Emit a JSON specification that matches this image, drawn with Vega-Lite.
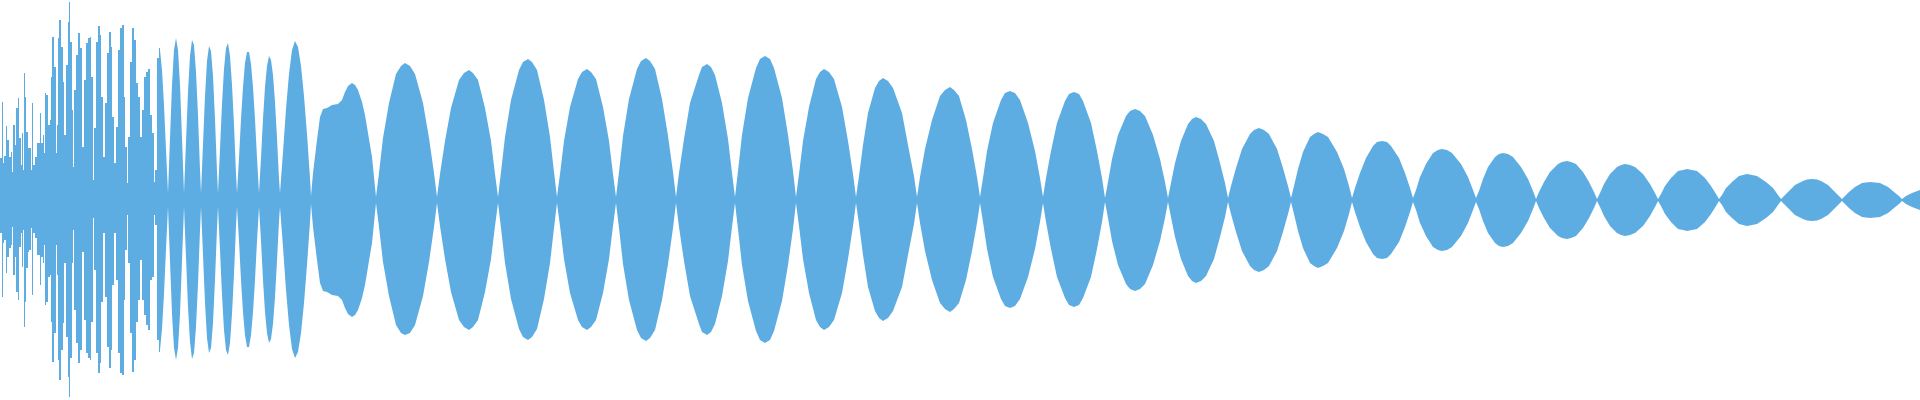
{
  "$schema": "https://vega.github.io/schema/vega-lite/v6.json",
  "width": 1920,
  "height": 400,
  "padding": 0,
  "autosize": {"type": "fit", "contains": "padding"},
  "background": "white",
  "config": {"view": {"stroke": null}},
  "datasets": {
    "jitter": [
      {"x":0,"t":42,"b":-33},{"x":2,"t":98,"b":-97},{"x":3,"t":37,"b":-43},{"x":4,"t":44,"b":-40},
      {"x":6,"t":74,"b":-73},{"x":7,"t":60,"b":-57},{"x":9,"t":43,"b":-48},{"x":11,"t":48,"b":-45},
      {"x":12,"t":28,"b":-27},{"x":13,"t":75,"b":-75},{"x":15,"t":55,"b":-57},{"x":16,"t":92,"b":-92},
      {"x":18,"t":102,"b":-100},{"x":19,"t":62,"b":-47},{"x":21,"t":35,"b":-33},{"x":22,"t":67,"b":-67},
      {"x":23,"t":30,"b":-30},{"x":24,"t":127,"b":-127},{"x":25,"t":103,"b":-102},{"x":26,"t":68,"b":-68},
      {"x":28,"t":52,"b":-52},{"x":29,"t":52,"b":-50},{"x":31,"t":30,"b":-28},{"x":32,"t":97,"b":-95},
      {"x":33,"t":35,"b":-33},{"x":35,"t":43,"b":-38},{"x":37,"t":57,"b":-55},{"x":40,"t":87,"b":-85},
      {"x":41,"t":57,"b":-57},{"x":43,"t":65,"b":-63},{"x":44,"t":47,"b":-45},{"x":45,"t":107,"b":-105},
      {"x":46,"t":105,"b":-102},{"x":48,"t":75,"b":-77},{"x":50,"t":80,"b":-75},{"x":51,"t":123,"b":-122},
      {"x":52,"t":163,"b":-162},{"x":54,"t":133,"b":-133},{"x":56,"t":47,"b":-45},{"x":57,"t":75,"b":-75},
      {"x":58,"t":162,"b":-160},{"x":59,"t":180,"b":-180},{"x":61,"t":153,"b":-150},{"x":63,"t":118,"b":-123},
      {"x":64,"t":65,"b":-63},{"x":66,"t":135,"b":-137},{"x":68,"t":178,"b":-177},{"x":69,"t":198,"b":-197},
      {"x":70,"t":158,"b":-158},{"x":72,"t":90,"b":-63},{"x":73,"t":33,"b":-30},{"x":74,"t":110,"b":-110},
      {"x":76,"t":145,"b":-143},{"x":78,"t":167,"b":-163},{"x":80,"t":152,"b":-150},{"x":82,"t":53,"b":-52},
      {"x":84,"t":120,"b":-120},{"x":86,"t":157,"b":-153},{"x":88,"t":162,"b":-158},{"x":90,"t":163,"b":-160},
      {"x":91,"t":123,"b":-122},{"x":93,"t":20,"b":-18},{"x":94,"t":72,"b":-70},{"x":96,"t":158,"b":-153},
      {"x":98,"t":174,"b":-173},{"x":100,"t":165,"b":-163},{"x":101,"t":103,"b":-102},{"x":103,"t":43,"b":-33},
      {"x":105,"t":97,"b":-97},{"x":107,"t":147,"b":-147},{"x":109,"t":168,"b":-168},{"x":111,"t":153,"b":-150},
      {"x":112,"t":83,"b":-85},{"x":114,"t":37,"b":-33},{"x":116,"t":73,"b":-80},{"x":118,"t":150,"b":-153},
      {"x":120,"t":172,"b":-173},{"x":122,"t":175,"b":-175},{"x":124,"t":103,"b":-100},{"x":125,"t":53,"b":-50},
      {"x":127,"t":17,"b":-15},{"x":128,"t":63,"b":-63},{"x":130,"t":138,"b":-133},{"x":132,"t":172,"b":-172},
      {"x":134,"t":160,"b":-160},{"x":136,"t":117,"b":-122},{"x":138,"t":103,"b":-100},{"x":140,"t":63,"b":-60},
      {"x":142,"t":90,"b":-100},{"x":144,"t":123,"b":-115},{"x":146,"t":128,"b":-125},{"x":148,"t":131,"b":-130},
      {"x":150,"t":85,"b":-80},{"x":152,"t":67,"b":-77},{"x":154,"t":18,"b":-15},{"x":155,"t":30,"b":-25},
      {"x":157,"t":142,"b":-140},{"x":159,"t":152,"b":-152},{"x":160,"t":150,"b":-150}
    ],
    "lobes": [
      {"x":160,"t":150,"b":-150},{"x":162,"t":130,"b":-129},{"x":164,"t":95,"b":-94},{"x":166,"t":50,"b":-49},{"x":168,"t":7,"b":-7},
      {"x":170,"t":62,"b":-61},{"x":172,"t":115,"b":-114},{"x":174,"t":150,"b":-148},{"x":176,"t":162,"b":-160},{"x":178,"t":150,"b":-148},{"x":180,"t":115,"b":-114},{"x":182,"t":62,"b":-61},{"x":184,"t":7,"b":-7},
      {"x":186,"t":58,"b":-57},{"x":188,"t":108,"b":-107},{"x":190,"t":144,"b":-142},{"x":192,"t":160,"b":-159},{"x":194,"t":155,"b":-153},{"x":196,"t":128,"b":-127},{"x":198,"t":85,"b":-84},{"x":200,"t":30,"b":-30},{"x":201,"t":7,"b":-7},
      {"x":203,"t":56,"b":-55},{"x":205,"t":104,"b":-103},{"x":207,"t":139,"b":-138},{"x":209,"t":154,"b":-153},{"x":211,"t":149,"b":-148},{"x":213,"t":124,"b":-123},{"x":215,"t":81,"b":-80},{"x":217,"t":28,"b":-28},{"x":218,"t":7,"b":-7},
      {"x":220,"t":51,"b":-50},{"x":222,"t":96,"b":-95},{"x":224,"t":131,"b":-130},{"x":226,"t":152,"b":-150},{"x":228,"t":157,"b":-155},{"x":230,"t":144,"b":-143},{"x":232,"t":115,"b":-114},{"x":234,"t":75,"b":-74},{"x":236,"t":26,"b":-26},{"x":237,"t":7,"b":-7},
      {"x":239,"t":42,"b":-41},{"x":241,"t":81,"b":-80},{"x":243,"t":113,"b":-112},{"x":245,"t":137,"b":-135},{"x":247,"t":148,"b":-147},{"x":249,"t":148,"b":-147},{"x":251,"t":136,"b":-135},{"x":253,"t":113,"b":-112},{"x":255,"t":81,"b":-80},{"x":257,"t":42,"b":-41},{"x":259,"t":7,"b":-7},
      {"x":261,"t":42,"b":-41},{"x":263,"t":81,"b":-80},{"x":265,"t":113,"b":-112},{"x":267,"t":134,"b":-133},{"x":269,"t":144,"b":-143},{"x":271,"t":140,"b":-139},{"x":273,"t":125,"b":-124},{"x":275,"t":98,"b":-97},{"x":277,"t":62,"b":-61},{"x":279,"t":21,"b":-21},{"x":280,"t":7,"b":-7},
      {"x":283,"t":48,"b":-47},{"x":286,"t":91,"b":-90},{"x":289,"t":126,"b":-125},{"x":292,"t":150,"b":-149},{"x":295,"t":159,"b":-158},{"x":298,"t":153,"b":-152},{"x":301,"t":134,"b":-133},{"x":304,"t":104,"b":-103},{"x":307,"t":66,"b":-65},{"x":310,"t":22,"b":-22},{"x":311,"t":4,"b":-4},
      {"x":313,"t":27,"b":-27},{"x":317,"t":60,"b":-60},{"x":320,"t":83,"b":-83},{"x":323,"t":91,"b":-91},{"x":327,"t":92,"b":-92},{"x":332,"t":95,"b":-95},{"x":338,"t":96,"b":-96},{"x":342,"t":100,"b":-100},{"x":345,"t":108,"b":-108},{"x":348,"t":114,"b":-114},{"x":352,"t":117,"b":-117},{"x":355,"t":115,"b":-115},{"x":358,"t":110,"b":-110},{"x":362,"t":98,"b":-98},{"x":365,"t":85,"b":-85},{"x":368,"t":67,"b":-67},{"x":372,"t":43,"b":-43},{"x":374,"t":23,"b":-23},{"x":376,"t":3,"b":-3},
      {"x":379,"t":27,"b":-27},{"x":383,"t":62,"b":-62},{"x":389,"t":97,"b":-96},{"x":396,"t":126,"b":-125},{"x":401,"t":134,"b":-133},{"x":405,"t":137,"b":-135},{"x":410,"t":134,"b":-133},{"x":415,"t":126,"b":-125},{"x":423,"t":97,"b":-96},{"x":429,"t":62,"b":-62},{"x":434,"t":27,"b":-27},{"x":437,"t":3,"b":-3},
      {"x":440,"t":26,"b":-26},{"x":445,"t":59,"b":-59},{"x":451,"t":92,"b":-92},{"x":459,"t":120,"b":-120},{"x":464,"t":127,"b":-127},{"x":469,"t":130,"b":-130},{"x":473,"t":127,"b":-127},{"x":478,"t":120,"b":-120},{"x":485,"t":92,"b":-92},{"x":491,"t":59,"b":-59},{"x":495,"t":26,"b":-26},{"x":498,"t":3,"b":-3},
      {"x":501,"t":28,"b":-28},{"x":505,"t":63,"b":-63},{"x":511,"t":100,"b":-99},{"x":519,"t":130,"b":-129},{"x":523,"t":138,"b":-137},{"x":528,"t":141,"b":-140},{"x":532,"t":138,"b":-137},{"x":537,"t":130,"b":-129},{"x":544,"t":100,"b":-99},{"x":550,"t":63,"b":-63},{"x":554,"t":28,"b":-28},{"x":557,"t":3,"b":-3},
      {"x":560,"t":26,"b":-26},{"x":564,"t":59,"b":-59},{"x":570,"t":93,"b":-93},{"x":578,"t":121,"b":-120},{"x":582,"t":128,"b":-127},{"x":587,"t":131,"b":-130},{"x":591,"t":128,"b":-127},{"x":596,"t":121,"b":-120},{"x":603,"t":93,"b":-93},{"x":609,"t":59,"b":-59},{"x":613,"t":26,"b":-26},{"x":616,"t":3,"b":-3},
      {"x":619,"t":28,"b":-28},{"x":623,"t":64,"b":-64},{"x":629,"t":101,"b":-100},{"x":637,"t":131,"b":-130},{"x":641,"t":139,"b":-138},{"x":646,"t":142,"b":-141},{"x":650,"t":139,"b":-138},{"x":655,"t":131,"b":-130},{"x":662,"t":101,"b":-100},{"x":668,"t":64,"b":-64},{"x":673,"t":28,"b":-28},{"x":676,"t":3,"b":-3},
      {"x":679,"t":27,"b":-27},{"x":684,"t":61,"b":-61},{"x":690,"t":97,"b":-96},{"x":699,"t":125,"b":-124},{"x":702,"t":133,"b":-132},{"x":707,"t":136,"b":-135},{"x":711,"t":133,"b":-132},{"x":715,"t":125,"b":-124},{"x":722,"t":97,"b":-96},{"x":728,"t":61,"b":-61},{"x":732,"t":27,"b":-27},{"x":735,"t":3,"b":-3},
      {"x":738,"t":29,"b":-29},{"x":742,"t":65,"b":-65},{"x":748,"t":102,"b":-101},{"x":756,"t":132,"b":-131},{"x":760,"t":141,"b":-140},{"x":765,"t":144,"b":-143},{"x":770,"t":141,"b":-140},{"x":774,"t":132,"b":-131},{"x":782,"t":102,"b":-101},{"x":788,"t":65,"b":-65},{"x":793,"t":29,"b":-29},{"x":796,"t":3,"b":-3},
      {"x":799,"t":26,"b":-26},{"x":803,"t":59,"b":-59},{"x":809,"t":93,"b":-93},{"x":816,"t":121,"b":-120},{"x":820,"t":128,"b":-127},{"x":824,"t":131,"b":-130},{"x":829,"t":128,"b":-127},{"x":834,"t":121,"b":-120},{"x":842,"t":93,"b":-93},{"x":848,"t":59,"b":-59},{"x":853,"t":26,"b":-26},{"x":856,"t":3,"b":-3},
      {"x":859,"t":24,"b":-24},{"x":863,"t":55,"b":-55},{"x":868,"t":87,"b":-87},{"x":875,"t":112,"b":-111},{"x":879,"t":119,"b":-118},{"x":883,"t":122,"b":-121},{"x":888,"t":119,"b":-118},{"x":893,"t":112,"b":-111},{"x":902,"t":87,"b":-87},{"x":908,"t":55,"b":-55},{"x":914,"t":24,"b":-24},{"x":917,"t":3,"b":-3},
      {"x":920,"t":23,"b":-23},{"x":925,"t":51,"b":-51},{"x":932,"t":80,"b":-80},{"x":940,"t":104,"b":-103},{"x":945,"t":110,"b":-109},{"x":950,"t":113,"b":-112},{"x":954,"t":110,"b":-109},{"x":959,"t":104,"b":-103},{"x":966,"t":80,"b":-80},{"x":972,"t":51,"b":-51},{"x":977,"t":23,"b":-23},{"x":980,"t":3,"b":-3},
      {"x":983,"t":22,"b":-22},{"x":987,"t":49,"b":-49},{"x":993,"t":77,"b":-77},{"x":1001,"t":100,"b":-99},{"x":1005,"t":107,"b":-106},{"x":1010,"t":109,"b":-108},{"x":1015,"t":107,"b":-106},{"x":1020,"t":100,"b":-99},{"x":1028,"t":77,"b":-77},{"x":1035,"t":49,"b":-49},{"x":1040,"t":22,"b":-22},{"x":1043,"t":3,"b":-3},
      {"x":1046,"t":22,"b":-22},{"x":1051,"t":49,"b":-49},{"x":1057,"t":77,"b":-77},{"x":1065,"t":99,"b":-98},{"x":1069,"t":106,"b":-105},{"x":1074,"t":108,"b":-107},{"x":1079,"t":106,"b":-105},{"x":1083,"t":99,"b":-98},{"x":1091,"t":77,"b":-77},{"x":1097,"t":49,"b":-49},{"x":1102,"t":22,"b":-22},{"x":1105,"t":2,"b":-2},
      {"x":1108,"t":18,"b":-18},{"x":1112,"t":41,"b":-41},{"x":1118,"t":65,"b":-65},{"x":1126,"t":84,"b":-84},{"x":1130,"t":89,"b":-89},{"x":1135,"t":91,"b":-91},{"x":1140,"t":89,"b":-89},{"x":1145,"t":84,"b":-84},{"x":1153,"t":65,"b":-65},{"x":1160,"t":41,"b":-41},{"x":1165,"t":18,"b":-18},{"x":1168,"t":2,"b":-2},
      {"x":1171,"t":17,"b":-17},{"x":1175,"t":37,"b":-37},{"x":1181,"t":59,"b":-59},{"x":1188,"t":76,"b":-76},{"x":1192,"t":81,"b":-81},{"x":1196,"t":83,"b":-83},{"x":1201,"t":81,"b":-81},{"x":1206,"t":76,"b":-76},{"x":1214,"t":59,"b":-59},{"x":1220,"t":37,"b":-37},{"x":1225,"t":17,"b":-17},{"x":1228,"t":2,"b":-2},
      {"x":1231,"t":14,"b":-14},{"x":1236,"t":32,"b":-32},{"x":1242,"t":51,"b":-51},{"x":1250,"t":66,"b":-66},{"x":1254,"t":70,"b":-70},{"x":1259,"t":72,"b":-72},{"x":1264,"t":70,"b":-70},{"x":1269,"t":66,"b":-66},{"x":1277,"t":51,"b":-51},{"x":1283,"t":32,"b":-32},{"x":1288,"t":14,"b":-14},{"x":1291,"t":2,"b":-2},
      {"x":1294,"t":14,"b":-14},{"x":1298,"t":31,"b":-31},{"x":1303,"t":48,"b":-48},{"x":1310,"t":63,"b":-63},{"x":1314,"t":66,"b":-66},{"x":1318,"t":68,"b":-68},{"x":1323,"t":66,"b":-66},{"x":1328,"t":63,"b":-63},{"x":1337,"t":48,"b":-48},{"x":1344,"t":31,"b":-31},{"x":1349,"t":14,"b":-14},{"x":1352,"t":2,"b":-2},
      {"x":1355,"t":12,"b":-12},{"x":1360,"t":27,"b":-27},{"x":1366,"t":42,"b":-42},{"x":1373,"t":54,"b":-54},{"x":1377,"t":58,"b":-58},{"x":1382,"t":59,"b":-59},{"x":1387,"t":58,"b":-58},{"x":1391,"t":54,"b":-54},{"x":1399,"t":42,"b":-42},{"x":1405,"t":27,"b":-27},{"x":1410,"t":12,"b":-12},{"x":1413,"t":2,"b":-2},
      {"x":1416,"t":10,"b":-10},{"x":1420,"t":23,"b":-23},{"x":1426,"t":36,"b":-36},{"x":1433,"t":47,"b":-47},{"x":1438,"t":50,"b":-50},{"x":1442,"t":51,"b":-51},{"x":1447,"t":50,"b":-50},{"x":1452,"t":47,"b":-47},{"x":1461,"t":36,"b":-36},{"x":1468,"t":23,"b":-23},{"x":1473,"t":10,"b":-10},{"x":1476,"t":2,"b":-2},
      {"x":1479,"t":9,"b":-9},{"x":1483,"t":21,"b":-21},{"x":1488,"t":33,"b":-33},{"x":1495,"t":43,"b":-43},{"x":1499,"t":46,"b":-46},{"x":1503,"t":47,"b":-47},{"x":1508,"t":46,"b":-46},{"x":1513,"t":43,"b":-43},{"x":1521,"t":33,"b":-33},{"x":1528,"t":21,"b":-21},{"x":1533,"t":9,"b":-9},{"x":1536,"t":1,"b":-1},
      {"x":1539,"t":8,"b":-8},{"x":1544,"t":18,"b":-18},{"x":1550,"t":28,"b":-28},{"x":1558,"t":36,"b":-36},{"x":1562,"t":38,"b":-38},{"x":1567,"t":39,"b":-39},{"x":1571,"t":38,"b":-38},{"x":1576,"t":36,"b":-36},{"x":1583,"t":28,"b":-28},{"x":1589,"t":18,"b":-18},{"x":1594,"t":8,"b":-8},{"x":1597,"t":1,"b":-1},
      {"x":1600,"t":7,"b":-7},{"x":1604,"t":16,"b":-16},{"x":1610,"t":26,"b":-26},{"x":1617,"t":33,"b":-33},{"x":1621,"t":35,"b":-35},{"x":1625,"t":36,"b":-36},{"x":1630,"t":35,"b":-35},{"x":1635,"t":33,"b":-33},{"x":1643,"t":26,"b":-26},{"x":1650,"t":16,"b":-16},{"x":1655,"t":7,"b":-7},{"x":1658,"t":1,"b":-1},
      {"x":1661,"t":6,"b":-6},{"x":1665,"t":14,"b":-14},{"x":1671,"t":22,"b":-22},{"x":1678,"t":29,"b":-29},{"x":1683,"t":30,"b":-30},{"x":1687,"t":31,"b":-31},{"x":1692,"t":30,"b":-30},{"x":1697,"t":29,"b":-29},{"x":1705,"t":22,"b":-22},{"x":1711,"t":14,"b":-14},{"x":1716,"t":6,"b":-6},{"x":1719,"t":1,"b":-1},
      {"x":1722,"t":5,"b":-5},{"x":1726,"t":12,"b":-12},{"x":1732,"t":18,"b":-18},{"x":1739,"t":24,"b":-24},{"x":1743,"t":25,"b":-25},{"x":1747,"t":26,"b":-26},{"x":1752,"t":25,"b":-25},{"x":1757,"t":24,"b":-24},{"x":1766,"t":18,"b":-18},{"x":1773,"t":12,"b":-12},{"x":1778,"t":5,"b":-5},{"x":1781,"t":1,"b":-1},
      {"x":1784,"t":4,"b":-4},{"x":1789,"t":9,"b":-9},{"x":1795,"t":15,"b":-15},{"x":1803,"t":19,"b":-19},{"x":1807,"t":20.5,"b":-20.5},{"x":1812,"t":21,"b":-21},{"x":1817,"t":20.5,"b":-20.5},{"x":1821,"t":19,"b":-19},{"x":1828,"t":15,"b":-15},{"x":1834,"t":9,"b":-9},{"x":1839,"t":4,"b":-4},{"x":1842,"t":1,"b":-1},
      {"x":1845,"t":4,"b":-4},{"x":1849,"t":8,"b":-8},{"x":1855,"t":13,"b":-13},{"x":1862,"t":17,"b":-17},{"x":1866,"t":17.6,"b":-17.6},{"x":1870,"t":18,"b":-18},{"x":1875,"t":17.6,"b":-17.6},{"x":1880,"t":17,"b":-17},{"x":1888,"t":13,"b":-13},{"x":1894,"t":8,"b":-8},{"x":1899,"t":4,"b":-4},{"x":1902,"t":1,"b":-1},
      {"x":1906,"t":4,"b":-4},{"x":1912,"t":7,"b":-7},{"x":1920,"t":10,"b":-10}
    ]
  },
  "layer": [
    {
      "data": {"name": "jitter"},
      "mark": {"type": "area", "interpolate": "step-after", "color": "#5DADE2"},
      "encoding": {
        "x": {"field": "x", "type": "quantitative", "scale": {"domain": [0, 1920], "nice": false, "zero": false}, "axis": null},
        "y": {"field": "t", "type": "quantitative", "scale": {"domain": [-200, 200], "nice": false}, "axis": null},
        "y2": {"field": "b"}
      }
    },
    {
      "data": {"name": "lobes"},
      "mark": {"type": "area", "interpolate": "linear", "color": "#5DADE2"},
      "encoding": {
        "x": {"field": "x", "type": "quantitative", "scale": {"domain": [0, 1920], "nice": false, "zero": false}, "axis": null},
        "y": {"field": "t", "type": "quantitative", "scale": {"domain": [-200, 200], "nice": false}, "axis": null},
        "y2": {"field": "b"}
      }
    }
  ]
}
